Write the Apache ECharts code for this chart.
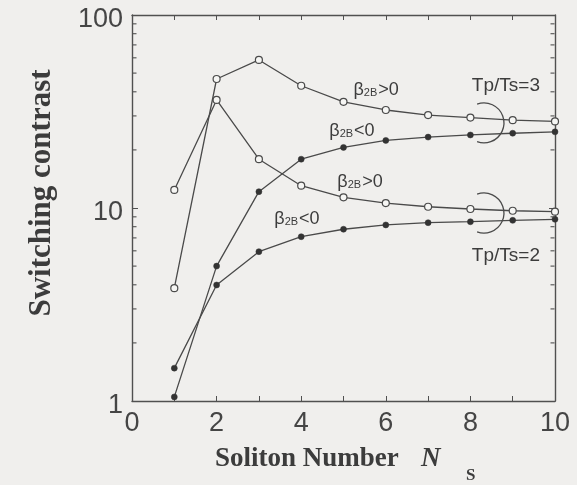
<!DOCTYPE html>
<html>
<head>
<meta charset="utf-8">
<script src="https://cdn.jsdelivr.net/npm/echarts@6/dist/echarts.min.js"></script>
<style>
  html, body { margin: 0; padding: 0; background: #f0efed; }
  #chart { width: 577px; height: 485px; }
</style>
</head>
<body>
<div id="chart"></div>
<script>
// Soliton number on the x axis
const solitonNumbers = [1, 2, 3, 4, 5, 6, 7, 8, 9, 10];

// Switching contrast, Tp/Ts = 3
const ratio3BetaPositive = [3.84, 46.6, 58.5, 43.0, 35.5, 32.2, 30.3, 29.4, 28.5, 28.1];
const ratio3BetaNegative = [1.05, 5.0, 12.15, 17.9, 20.6, 22.4, 23.3, 23.9, 24.4, 24.8];

// Switching contrast, Tp/Ts = 2
const ratio2BetaPositive = [12.4, 36.3, 17.9, 13.05, 11.36, 10.6, 10.15, 9.88, 9.68, 9.57];
const ratio2BetaNegative = [1.48, 3.99, 5.94, 7.1, 7.76, 8.17, 8.39, 8.49, 8.63, 8.74];

// Axis ticks
const xTickValues = [0, 1, 2, 3, 4, 5, 6, 7, 8, 9, 10];
const xTickLabels = ['0', '', '2', '', '4', '', '6', '', '8', '', '10'];
const yMajorTicks = [1, 10, 100];
const yMinorTicks = [2, 3, 4, 5, 6, 7, 8, 9, 20, 30, 40, 50, 60, 70, 80, 90];

// Curve annotations, placed in data coordinates
const curveNotes = [
  { at: [5.77, 41.4], text: '{b|β}{s|2B}{b|>0}' },
  { at: [5.20, 25.4], text: '{b|β}{s|2B}{b|<0}' },
  { at: [5.39, 13.8], text: '{b|β}{s|2B}{b|>0}' },
  { at: [3.90, 8.88], text: '{b|β}{s|2B}{b|<0}' }
];
const groupNotes = [
  { at: [8.84, 42.9], text: 'Tp/Ts=3' },
  { at: [8.84, 5.64], text: 'Tp/Ts=2' }
];
const bracketCentres = [[8.32, 27.6], [8.32, 9.42]];

const INK = '#3c3c3c';
const LINE = '#4a4a4a';
const FRAME = '#505050';
const SANS = '"Liberation Sans", Arial, sans-serif';
const SERIF = '"Liberation Serif", "Times New Roman", serif';

const pairs = (ys) => solitonNumbers.map((n, i) => [n, ys[i]]);

function curve(name, ys, open) {
  return {
    name: name,
    type: 'line',
    data: pairs(ys),
    xAxisIndex: 0,
    yAxisIndex: 0,
    symbol: 'circle',
    symbolSize: open ? 7 : 6,
    showSymbol: true,
    lineStyle: { color: LINE, width: 1.3 },
    itemStyle: open
      ? { color: '#f6f6f4', borderColor: LINE, borderWidth: 1.2 }
      : { color: '#333333', borderColor: '#333333', borderWidth: 0.5 },
    emphasis: { disabled: true },
    z: 3
  };
}

const chart = echarts.init(document.getElementById('chart'), null, { renderer: 'canvas' });

const frameLine = { show: true, onZero: false, lineStyle: { color: FRAME, width: 1.4 } };
const tickStyle = { color: FRAME, width: 1 };

const option = {
  backgroundColor: '#f0efed',
  animation: false,
  grid: { left: 132, right: 22, top: 15, bottom: 84, containLabel: false, outerBoundsMode: 'none' },
  xAxis: [
    {
      type: 'value', min: 0, max: 10, interval: 1, position: 'bottom',
      axisLine: frameLine, splitLine: { show: false },
      axisTick: { show: true, inside: true, length: 5, lineStyle: tickStyle },
      axisLabel: {
        show: true, margin: 9, color: '#454545', fontFamily: SANS, fontSize: 27,
        formatter: (v) => xTickLabels[xTickValues.indexOf(v)] ?? ''
      }
    },
    {
      type: 'value', min: 0, max: 10, interval: 1, position: 'top',
      axisLine: frameLine, splitLine: { show: false },
      axisTick: { show: true, inside: true, length: 5, lineStyle: tickStyle },
      axisLabel: { show: false }
    }
  ],
  yAxis: [
    {
      type: 'log', logBase: 10, min: yMajorTicks[0], max: yMajorTicks[yMajorTicks.length - 1],
      position: 'left',
      axisLine: frameLine, splitLine: { show: false },
      axisTick: { show: true, inside: true, length: 6, lineStyle: tickStyle },
      axisLabel: {
        show: true, margin: 9, color: '#454545', fontFamily: SANS, fontSize: 27,
        verticalAlign: 'top', lineHeight: 10,
        formatter: (v) => String(Math.round(v))
      }
    },
    {
      type: 'log', logBase: 10, min: yMajorTicks[0], max: yMajorTicks[yMajorTicks.length - 1],
      position: 'right',
      axisLine: frameLine, splitLine: { show: false },
      axisTick: { show: true, inside: true, length: 6, lineStyle: tickStyle },
      axisLabel: { show: false }
    }
  ],
  series: [
    curve('Tp/Ts=3, β2B>0', ratio3BetaPositive, true),
    curve('Tp/Ts=3, β2B<0', ratio3BetaNegative, false),
    curve('Tp/Ts=2, β2B>0', ratio2BetaPositive, true),
    curve('Tp/Ts=2, β2B<0', ratio2BetaNegative, false),
    {
      // minor log ticks on the left and right frame
      type: 'custom',
      data: yMinorTicks.map((v) => [5, v]),
      encode: { x: 0, y: 1 },
      silent: true,
      clip: false,
      renderItem: (params, api) => {
        const v = api.value(1);
        const l = api.coord([xTickValues[0], v]);
        const r = api.coord([xTickValues[xTickValues.length - 1], v]);
        const st = { stroke: FRAME, lineWidth: 1.1 };
        return {
          type: 'group',
          children: [
            { type: 'polyline', shape: { points: [[l[0] + 0.5, l[1]], [l[0] + 4.5, l[1]]] }, style: st },
            { type: 'polyline', shape: { points: [[r[0] - 0.5, r[1]], [r[0] - 4.5, r[1]]] }, style: st }
          ]
        };
      },
      z: 6
    },
    {
      // brackets grouping each Tp/Ts pair
      type: 'custom',
      data: bracketCentres,
      encode: { x: 0, y: 1 },
      silent: true,
      renderItem: (params, api) => {
        const c = api.coord([api.value(0), api.value(1)]);
        return {
          type: 'arc',
          shape: { cx: c[0], cy: c[1], r: 20, startAngle: -110 * Math.PI / 180, endAngle: 110 * Math.PI / 180, clockwise: true },
          style: { stroke: LINE, lineWidth: 1.3, fill: null }
        };
      },
      z: 4
    },
    {
      // β2B labels next to the curves
      type: 'custom',
      data: curveNotes.map((d) => d.at),
      encode: { x: 0, y: 1 },
      silent: true,
      renderItem: (params, api) => {
        const c = api.coord([api.value(0), api.value(1)]);
        return {
          type: 'text',
          style: {
            text: curveNotes[params.dataIndex].text,
            x: c[0], y: c[1], align: 'center', verticalAlign: 'middle',
            fill: INK,
            rich: {
              b: { fontFamily: SANS, fontSize: 18, color: INK, verticalAlign: 'bottom', lineHeight: 21 },
              s: { fontFamily: SANS, fontSize: 11, color: INK, verticalAlign: 'bottom', lineHeight: 21, padding: [0, 1, 1, 0] }
            }
          }
        };
      },
      z: 5
    },
    {
      // Tp/Ts group labels
      type: 'custom',
      data: groupNotes.map((d) => d.at),
      encode: { x: 0, y: 1 },
      silent: true,
      renderItem: (params, api) => {
        const c = api.coord([api.value(0), api.value(1)]);
        return {
          type: 'text',
          style: {
            text: groupNotes[params.dataIndex].text,
            x: c[0], y: c[1], align: 'center', verticalAlign: 'middle',
            fill: INK, font: '19px ' + SANS
          }
        };
      },
      z: 5
    }
  ],
  graphic: [
    {
      type: 'text', rotation: Math.PI / 2, x: 42, y: 193,
      style: {
        text: 'Switching contrast', align: 'center', verticalAlign: 'middle',
        fill: INK, font: 'bold 31px ' + SERIF
      }
    },
    {
      type: 'text', x: 215, y: 459,
      style: { text: 'Soliton Number', align: 'left', verticalAlign: 'middle', fill: INK, font: 'bold 27px ' + SERIF }
    },
    {
      type: 'text', x: 421, y: 459,
      style: { text: 'N', align: 'left', verticalAlign: 'middle', fill: INK, font: 'italic bold 27px ' + SERIF }
    },
    {
      type: 'text', x: 466, y: 476,
      style: { text: 'S', align: 'left', verticalAlign: 'middle', fill: INK, font: 'bold 17px ' + SERIF }
    }
  ]
};

chart.setOption(option);
</script>
</body>
</html>
